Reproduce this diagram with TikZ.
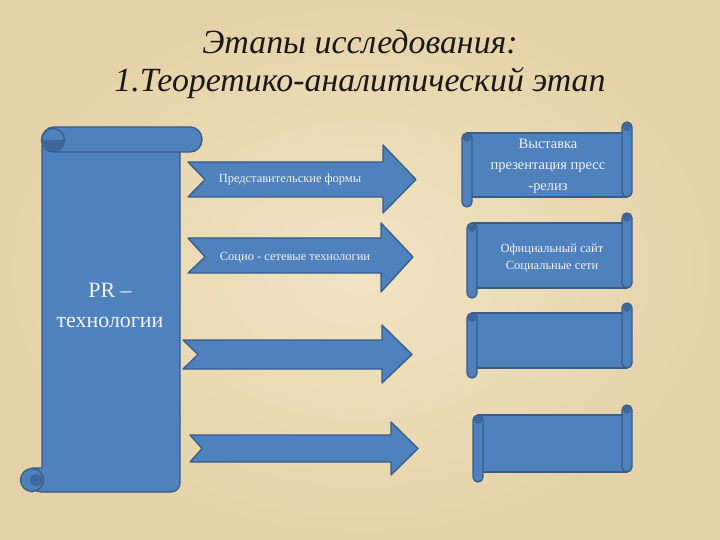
\documentclass[tikz,border=0pt]{standalone}
\usepackage{fontspec}
\setmainfont{Liberation Serif}
\definecolor{sbl}{RGB}{79,129,189}
\definecolor{sbd}{RGB}{56,93,138}
\definecolor{curl}{RGB}{62,104,155}
\definecolor{parchin}{RGB}{241,228,196}
\definecolor{parchout}{RGB}{229,210,168}
\definecolor{ttext}{RGB}{242,242,242}
\newcommand{\notcharrow}[9]{%
  \filldraw[bluefill] (#1,#3) -- (#5,#3) -- (#5,#6) -- (#8,#9) -- (#5,#7) -- (#5,#4) -- (#1,#4) -- (#2,#9) -- cycle;}
\newcommand{\hscroll}[6]{%
  \filldraw[bluefill] ({#1+5},#4) rectangle ({#2-5},#5);
  \filldraw[bluefill, rounded corners=5bp] ({#2-10},#3) rectangle (#2,#5);
  \fill[curl] ({#2-5},{#3+5}) circle (4);
  \filldraw[bluefill, rounded corners=5bp] (#1,#4) rectangle ({#1+10},#6);
  \fill[curl] ({#1+5},{#4+5}) circle (4);}
\begin{document}
\begin{tikzpicture}[x=1bp,y=-1bp,
  bluefill/.style={fill=sbl, draw=sbd, line width=1.3bp, line join=round},
  wtxt/.style={text=ttext, align=center, inner sep=0pt}]
\useasboundingbox (0,0) rectangle (720,540);
\shade[inner color=parchin, outer color=parchout] (0,0) rectangle (720,540);
% title
\node[font=\fontsize{34}{38}\selectfont\itshape, text=black!90, align=center] (title) at (360,64)
  {Этапы исследования:\\1.Теоретико-аналитический этап};
% left vertical scroll
\filldraw[bluefill] (32,492) -- (32,468) -- (42,468) -- (42,145) -- (180,145)
  [rounded corners=9bp] -- (180,492) -- (32,492) [sharp corners] -- cycle;
\filldraw[bluefill] (32,480) circle (11.5);
\fill[curl] (36,480) circle (6);
\filldraw[bluefill, rounded corners=12bp] (42,127) rectangle (202,152);
\filldraw[bluefill] (53,140) circle (11.5);
\fill[curl] (41.5,140) arc[start angle=180, end angle=0, radius=11.5] -- cycle;
\node[wtxt, font=\fontsize{22}{30}\selectfont] (pr) at (110,305) {PR –\\технологии};
% arrows
\notcharrow{188}{205}{162}{197}{383}{145}{213}{416}{179.5}
\notcharrow{188}{205}{238}{273}{381}{223}{292}{413}{257}
\notcharrow{183}{198}{340}{369}{382}{325}{383}{412}{354.5}
\notcharrow{190}{202}{435}{462}{391}{422}{475}{418}{448.5}
\node[wtxt, font=\fontsize{12.5}{14}\selectfont] (a1) at (290,180) {Представительские формы};
\node[wtxt, font=\fontsize{12.5}{14}\selectfont] (a2) at (295,258) {Социо - сетевые технологии};
% right horizontal scrolls
\hscroll{462}{632}{122}{133}{197}{207}
\hscroll{467}{632}{213}{223}{288}{298}
\hscroll{467}{632}{303}{313}{368}{378}
\hscroll{473}{632}{405}{415}{472}{482}
\node[wtxt, font=\fontsize{14.5}{21}\selectfont] (s1) at (548,166) {Выставка\\презентация пресс\\-релиз};
\node[wtxt, font=\fontsize{12.5}{17}\selectfont] (s2) at (552,258) {Официальный сайт\\Социальные сети};
\end{tikzpicture}
\end{document}
